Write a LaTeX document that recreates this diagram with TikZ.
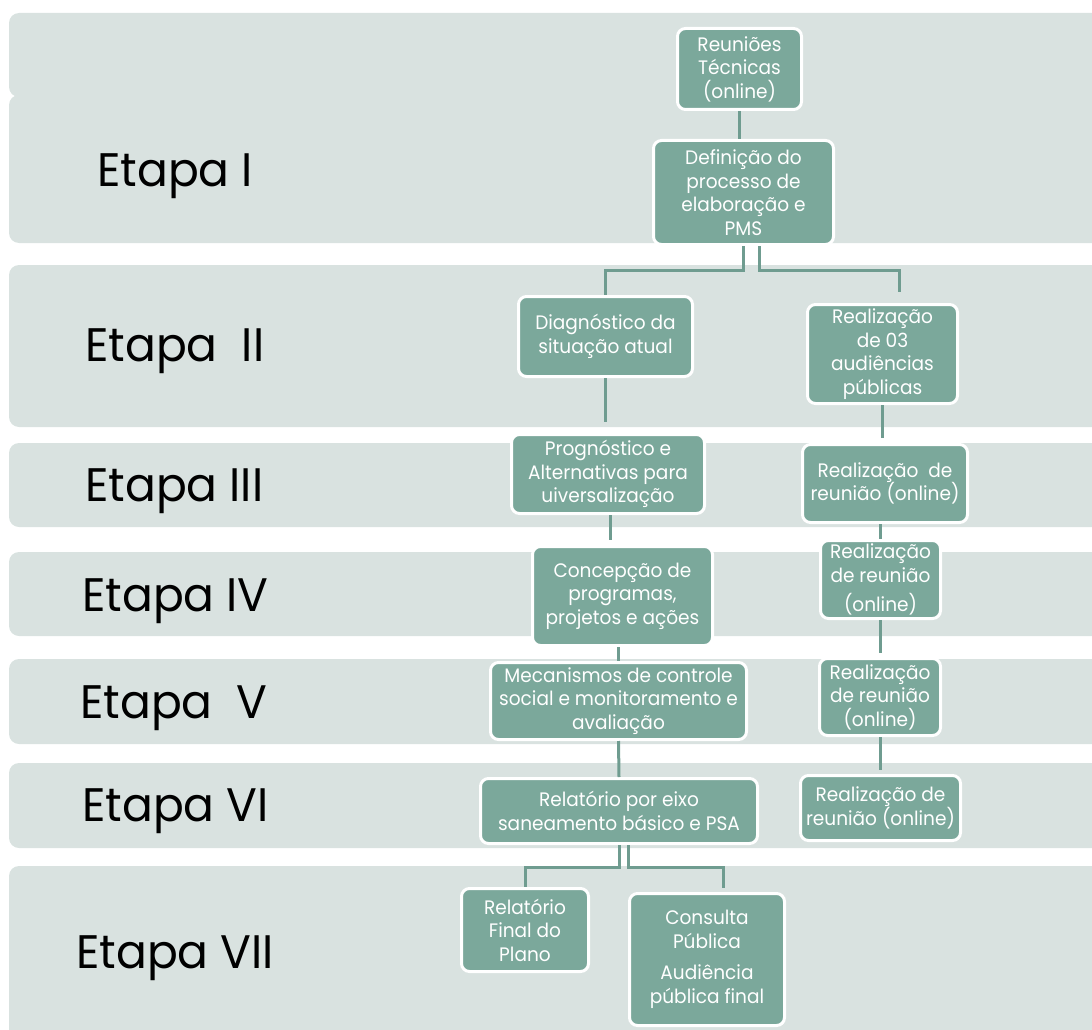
\documentclass[tikz,border=0pt]{standalone}
\usepackage{fontspec}
\setmainfont{Poppins}
\newfontfamily\labfont[FakeStretch=0.97]{Poppins}
\newfontfamily\boxfont[FakeStretch=0.95]{Poppins}
\definecolor{bandc}{HTML}{D9E2E0}
\definecolor{boxc}{HTML}{7BA89B}
\definecolor{linec}{HTML}{6F9C90}
\begin{document}
\begin{tikzpicture}[x=1pt,y=-1pt,
  band/.style={fill=bandc, rounded corners=10pt},
  stage/.style={fill=boxc, draw=white, line width=3pt, rounded corners=8pt, text=white, align=center, inner sep=0pt, font=\boxfont\fontsize{19.5}{23.5}\selectfont},
  conn/.style={draw=linec, line width=3pt},
  lab/.style={anchor=base west, inner sep=0pt, font=\labfont\fontsize{47}{50}\selectfont}]
\useasboundingbox (0,0) rectangle (1092,1030);
% bands
\fill[band] (9,13) rectangle (1130,97);
\fill[band] (9,95) rectangle (1130,243);
\fill[band] (9,265) rectangle (1130,427);
\fill[band] (9,443) rectangle (1130,527);
\fill[band] (9,552) rectangle (1130,636);
\fill[band] (9,659) rectangle (1130,744);
\fill[band] (9,763) rectangle (1130,848);
\fill[band] (9,866) rectangle (1130,1060);
% labels
\node[lab] (L1) at (97,186) {Etapa I};
\node[lab] (L2) at (85,361) {Etapa\ \ II};
\node[lab] (L3) at (85,501) {Etapa III};
\node[lab] (L4) at (82,611) {Etapa IV};
\node[lab] (L5) at (80,718) {Etapa\ \ V};
\node[lab] (L6) at (82,821) {Etapa VI};
\node[lab] (L7) at (76,968) {Etapa VII};
% coordinates for free connector ends
\coordinate (bus1) at (0,270);
\coordinate (r2top) at (899,292);
\coordinate (bus2) at (0,867);
\coordinate (cptop) at (723,888);
% boxes
\node[stage, minimum width=124pt, minimum height=81pt] (R1) at (739.5,69) {Reuniões\\Técnicas\\(online)};
\node[stage, minimum width=180pt, minimum height=104pt] (D) at (743.5,192.5) {Definição do\\processo de\\elaboração e\\PMS};
\node[stage, minimum width=174pt, minimum height=80pt] (Diag) at (605.5,336.5) {Diagnóstico da\\situação atual};
\node[stage, minimum width=150pt, minimum height=99pt] (R2) at (882.5,354) {Realização\\de 03\\audiências\\públicas};
\node[stage, minimum width=193pt, minimum height=79pt] (Prog) at (608,474) {Prognóstico e\\Alternativas para\\uiversalização};
\node[stage, minimum width=165pt, minimum height=78pt] (R3) at (885,483.5) {Realização\ \ de\\reunião (online)};
\node[stage, minimum width=180pt, minimum height=99pt] (Conc) at (622.5,596) {Concepção de\\programas,\\projetos e ações};
\node[stage, minimum width=120pt, minimum height=78pt] (R4) at (880.5,579.5) {Realização\\de reunião\\[6pt](online)};
\node[stage, minimum width=256pt, minimum height=77pt] (Mec) at (618.5,701) {Mecanismos de controle\\social e monitoramento e\\avaliação};
\node[stage, minimum width=121pt, minimum height=77pt] (R5) at (880,697) {Realização\\de reunião\\(online)};
\node[stage, minimum width=277pt, minimum height=65pt] (Rel) at (619,811) {Relatório por eixo\\saneamento básico e PSA};
\node[stage, minimum width=160pt, minimum height=65pt] (R6) at (880.5,808) {Realização de\\reunião (online)};
\node[stage, minimum width=127pt, minimum height=83pt] (RF) at (525,930) {Relatório\\Final do\\Plano};
\node[stage, minimum width=155pt, minimum height=132pt] (CP) at (707,959.5) {Consulta\\Pública\\[8pt]Audiência\\pública final};
% connectors
\draw[conn] (R1.south) -- (R1.south |- D.north);
\draw[conn] (D.south) |- (Diag.north |- bus1) -- (Diag.north);
\draw[conn] ([xshift=16pt]D.south) |- (r2top |- bus1) -- (r2top);
\draw[conn, shorten >=11pt] (Diag.south) -- (Diag.south |- Prog.north);
\draw[conn, shorten >=5pt] (R2.south) -- (R2.south |- R3.north);
\draw[conn, shorten >=5pt] ([xshift=2pt]Prog.south) -- ([xshift=2pt]Prog.south |- Conc.north);
\draw[conn] (R4.north |- R3.south) -- (R4.north);
\draw[conn] (Mec.north |- Conc.south) -- (Mec.north);
\draw[conn, shorten >=4pt] (R4.south) -- (R4.south |- R5.north);
\draw[conn] (Mec.south) -- (Rel.north);
\draw[conn, shorten >=4pt] (R5.south) -- (R5.south |- R6.north);
\draw[conn] (Rel.south) |- (RF.north |- bus2) -- (RF.north);
\draw[conn] ([xshift=9pt]Rel.south) |- (cptop |- bus2) -- (cptop);
\end{tikzpicture}
\end{document}
